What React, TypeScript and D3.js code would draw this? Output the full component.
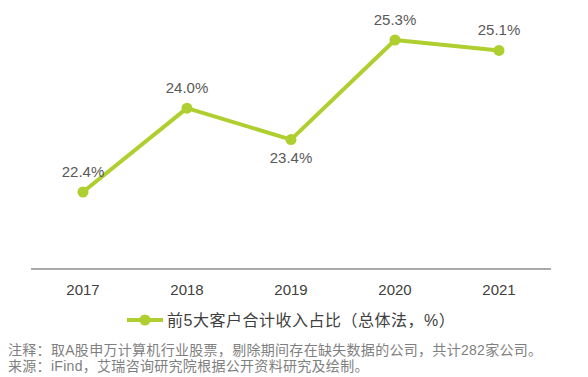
import React from "react";
import * as d3 from "d3";

const years = ["2017", "2018", "2019", "2020", "2021"];
const values = [22.4, 24.0, 23.4, 25.3, 25.1];
const labelBelow = [false, false, true, false, false];
const legendLabel = "前5大客户合计收入占比（总体法，%）";
const note1 = "注释：取A股申万计算机行业股票，剔除期间存在缺失数据的公司，共计282家公司。";
const note2 = "来源：iFind，艾瑞咨询研究院根据公开资料研究及绘制。";

const W = 588;
const H = 377;
const GREEN = "#AECF2F";
const FONT = "Arial, 'Liberation Sans', 'Noto Sans CJK SC', sans-serif";

export default function App() {
  const x = d3.scaleBand<string>().domain(years).range([31, 551]);
  const y = d3.scaleLinear().domain([22.4, 25.3]).range([192, 40]);
  const line = d3
    .line<number>()
    .x((_, i) => (x(years[i]) as number) + x.bandwidth() / 2)
    .y((d) => y(d));
  const baseY = 269;

  return (
    <svg
      width={W}
      height={H}
      style={{ position: "absolute", left: 0, top: 0, fontFamily: FONT }}
    >
      <rect width={W} height={H} fill="#fff" />
      <line x1={31} x2={551} y1={baseY} y2={baseY} stroke="#8c8c8c" strokeWidth={1.5} />
      {years.map((yr) => (
        <text
          key={yr}
          x={(x(yr) as number) + x.bandwidth() / 2}
          y={295}
          textAnchor="middle"
          fontSize={15}
          fill="#404040"
        >
          {yr}
        </text>
      ))}
      <path d={line(values) || ""} fill="none" stroke={GREEN} strokeWidth={4} strokeLinejoin="round" />
      {values.map((v, i) => {
        const cx = (x(years[i]) as number) + x.bandwidth() / 2;
        const cy = y(v);
        return (
          <g key={i}>
            <circle cx={cx} cy={cy} r={5.5} fill={GREEN} />
            <text
              x={cx}
              y={labelBelow[i] ? cy + 23 : cy - 15}
              textAnchor="middle"
              fontSize={15}
              fill="#595959"
            >
              {v.toFixed(1) + "%"}
            </text>
          </g>
        );
      })}
      <line x1={127} x2={163} y1={320} y2={320} stroke={GREEN} strokeWidth={4} />
      <circle cx={145} cy={320} r={5.5} fill={GREEN} />
      <text x={167} y={326} fontSize={16} letterSpacing={0.5} fill="#404040">
        {legendLabel}
      </text>
      <text x={8} y={355} fontSize={14} letterSpacing={0.3} fill="#7f7f7f">
        {note1}
      </text>
      <text x={8} y={371} fontSize={14} letterSpacing={0.3} fill="#7f7f7f">
        {note2}
      </text>
    </svg>
  );
}
